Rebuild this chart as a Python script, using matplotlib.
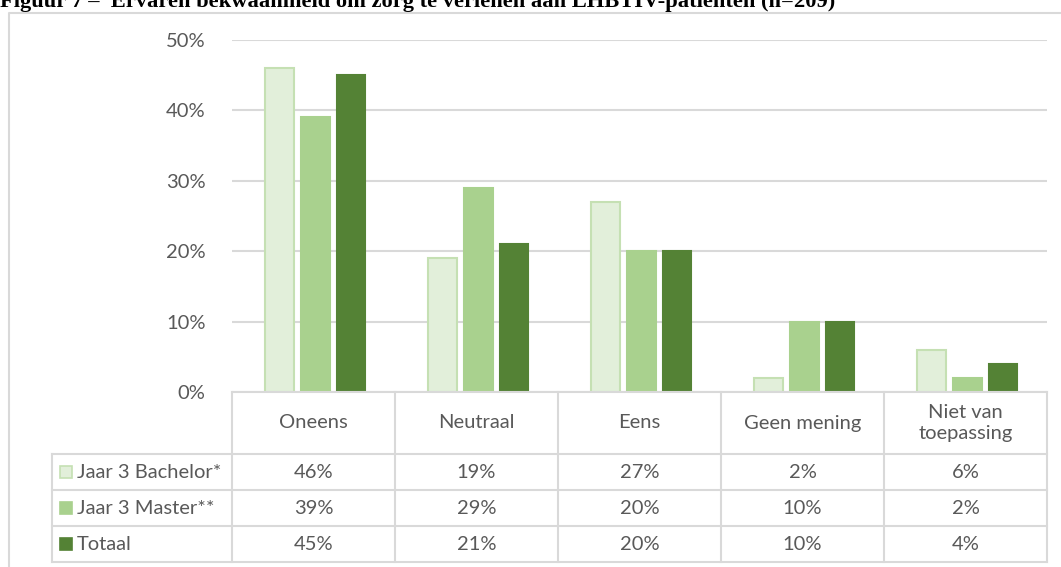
import matplotlib
matplotlib.use("Agg")
import matplotlib.pyplot as plt
from matplotlib.patches import Rectangle

# ---- data ----
categories = ["Oneens", "Neutraal", "Eens", "Geen mening", "Niet van\ntoepassing"]
series_names = ["Jaar 3 Bachelor*", "Jaar 3 Master**", "Totaal"]
bachelor = [46, 19, 27, 2, 6]
master = [39, 29, 20, 10, 2]
totaal = [45, 21, 20, 10, 4]
yticks = [0, 10, 20, 30, 40, 50]
title = "Figuur 7 \u2013  Ervaren bekwaamheid om zorg te verlenen aan LHBTIV-patiënten (n=209)"

series = [bachelor, master, totaal]
fills = ["#E2EFDA", "#A9D18E", "#548235"]
edges = ["#C5E0B3", "#A9D18E", "#548235"]
text_col = "#595959"
line_col = "#D9D9D9"
FONT = "Lato"
FS = 14.5

W, H = 1061, 567
fig = plt.figure(figsize=(W / 100, H / 100), dpi=100)

# plot area (pixel geometry)
left, right, top, base = 232, 1047, 40, 392
ax = fig.add_axes([left / W, 1 - base / H, (right - left) / W, (base - top) / H])
n = len(categories)
bw = 0.177
offs = [-0.21, 0.01, 0.23]
for s, vals in enumerate(series):
    ax.bar([i + offs[s] for i in range(n)], vals, width=bw, color=fills[s],
           edgecolor=edges[s], linewidth=1.5, zorder=3)
ax.set_xlim(-0.5, n - 0.5)
ax.set_ylim(0, 50)
ax.set_yticks(yticks)
ax.set_yticklabels([f"{t}%" for t in yticks], fontsize=FS, color=text_col, family=FONT)
ax.set_xticks([])
ax.tick_params(axis="y", length=0, pad=19)
ax.grid(axis="y", color=line_col, linewidth=1.5, zorder=0)
for sp in ax.spines.values():
    sp.set_visible(False)
ax.patch.set_alpha(0)

# overlay in pixel coordinates for frame, title and data table
ov = fig.add_axes([0, 0, 1, 1])
ov.set_xlim(0, W)
ov.set_ylim(H, 0)
ov.axis("off")
ov.patch.set_alpha(0)

# outer chart frame
ov.plot([8.5, 8.5, W + 5], [H + 5, 12.5, 12.5], color=line_col, lw=1.5, solid_capstyle="butt")

# figure caption (runs past the top edge)
ov.text(0, 7, title, family="Liberation Serif", fontweight="bold", fontsize=16.2,
        color="black", ha="left", va="baseline")

# data table
cw = (right - left) / n
cols = [left + i * cw for i in range(n + 1)]
hdr_bot = 454
rows_y = [454, 490, 526, 562]
lab_x = 52
lkw = dict(color=line_col, lw=1.5, solid_capstyle="projecting", zorder=5)
ov.plot([left, right], [base, base], **lkw)
for y in rows_y:
    ov.plot([lab_x, right], [y, y], **lkw)
for x in cols:
    ov.plot([x, x], [base, rows_y[-1]], **lkw)
ov.plot([lab_x, lab_x], [rows_y[0], rows_y[-1]], **lkw)

for i, c in enumerate(categories):
    ov.text((cols[i] + cols[i + 1]) / 2, (base + hdr_bot) / 2, c, ha="center", va="center",
            fontsize=FS, color=text_col, family=FONT, linespacing=1.3)

for r, vals in enumerate(series):
    yc = (rows_y[r] + rows_y[r + 1]) / 2
    ov.add_patch(Rectangle((59.5, yc - 6), 12, 12, facecolor=fills[r], edgecolor=edges[r],
                           lw=1.2, zorder=6))
    ov.text(77, yc, series_names[r], ha="left", va="center", fontsize=FS,
            color=text_col, family=FONT)
    for i, v in enumerate(vals):
        ov.text((cols[i] + cols[i + 1]) / 2, yc, f"{v}%", ha="center", va="center",
                fontsize=FS, color=text_col, family=FONT)

fig.savefig("out.png", dpi=100)
